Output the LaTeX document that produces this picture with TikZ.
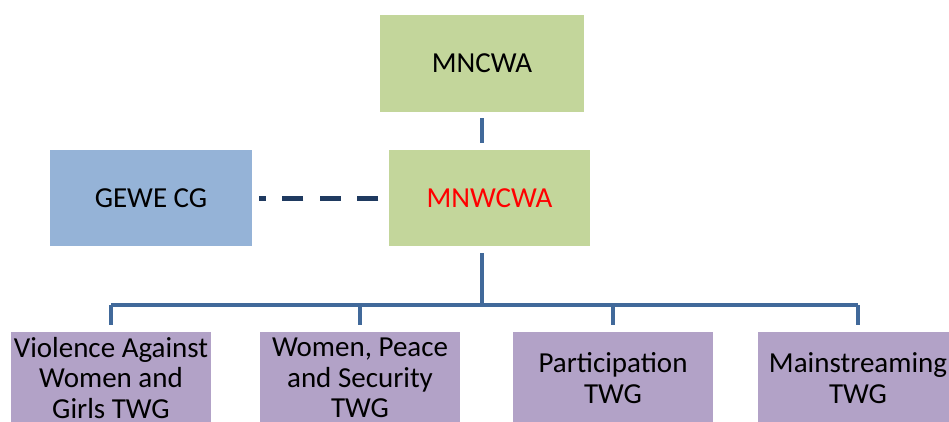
\documentclass[tikz,border=0pt]{standalone}
\usepackage{fontspec}
\setmainfont{Carlito}
\definecolor{boxgreen}{HTML}{C3D69B}
\definecolor{boxblue}{HTML}{95B3D7}
\definecolor{boxpurple}{HTML}{B2A2C7}
\definecolor{linkblue}{HTML}{41699A}
\definecolor{dashnavy}{HTML}{1F3A60}
\begin{document}
\begin{tikzpicture}[x=1pt,y=-1pt,
  box/.style={inner sep=0pt, align=center, font=\fontsize{29}{30.5}\selectfont, text=black},
  greenbox/.style={box, fill=boxgreen},
  bluebox/.style={box, fill=boxblue},
  purplebox/.style={box, fill=boxpurple, minimum width=200pt, minimum height=110pt},
  link/.style={draw=linkblue, line width=4.5pt},
  dashlink/.style={draw=dashnavy, line width=5pt, dash pattern=on 21pt off 16.5pt}
]
\useasboundingbox (0,0) rectangle (949,421);
\clip (0,0) rectangle (949,421);
\fill[white] (0,0) rectangle (949,421);

\node[greenbox, minimum width=204pt, minimum height=97pt] (mncwa) at (482,63.5) {MNCWA};
\node[greenbox, minimum width=201pt, minimum height=96pt, text=red] (mnwcwa) at (489.5,198) {MNWCWA};
\node[bluebox, minimum width=202pt, minimum height=96pt] (gewe) at (151,198) {GEWE CG};

\node[purplebox] (vaw) at (111,387) {};
\node[purplebox] (wps) at (360,387) {};
\node[purplebox] (par) at (613,387) {};
\node[purplebox] (mai) at (858,387) {};
\node[box] (vawt) at (111,378) {Violence Against\\Women and\\Girls TWG};
\node[box] (wpst) at (360,378) {Women, Peace\\and Security\\TWG};
\node[box] (part) at (613,378) {Participation\\TWG};
\node[box] (mait) at (858,378) {Mainstreaming\\TWG};

% connectors
\draw[link, shorten <=6pt, shorten >=7pt] (mncwa.south) -- (mncwa.south |- mnwcwa.north);
\coordinate (bus) at (482,305);
\draw[link, shorten <=7pt] (mncwa.south |- mnwcwa.south) -- (bus);
\draw[link] (vaw.north |- bus) -- (mai.north |- bus);
\foreach \b in {vaw,wps,par,mai}{
  \draw[link, shorten >=7pt] (\b.north |- bus) -- (\b.north);
}
\draw[dashlink, shorten <=10.5pt, shorten >=7pt] (mnwcwa.west) -- (gewe.east);
\end{tikzpicture}
\end{document}
